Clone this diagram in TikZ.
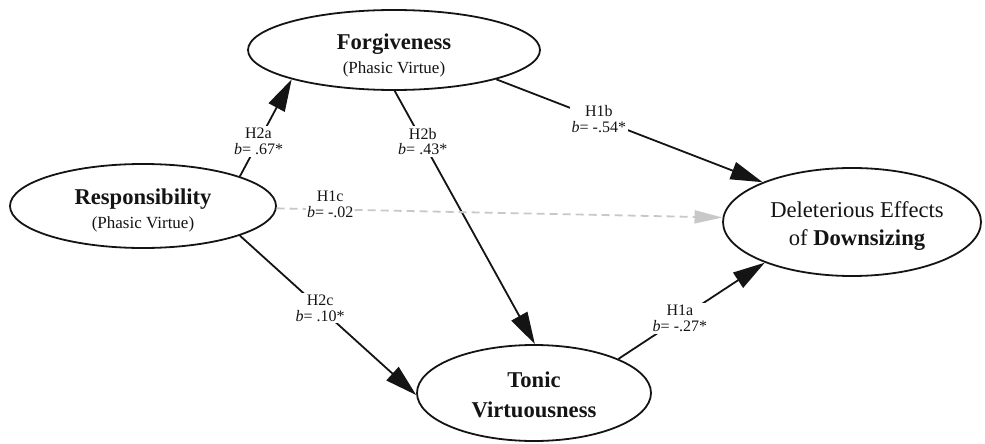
\documentclass[tikz,border=0pt]{standalone}
\usepackage{fontspec}
\setmainfont{Liberation Serif}
\usetikzlibrary{arrows.meta,shapes.geometric}
\definecolor{lgray}{RGB}{200,200,200}
\definecolor{ink}{RGB}{20,20,20}
\begin{document}
\begin{tikzpicture}[x=0.5pt,y=-0.5pt,
  latent/.style={draw=ink, ellipse, line width=0.9pt, inner sep=0pt},
  txt/.style={align=center, inner sep=0pt, text=ink},
  pathway/.style={draw=ink, line width=0.9pt, -{Triangle[length=16pt,width=9pt]}},
  weak/.style={draw=lgray, line width=0.9pt, dash pattern=on 4pt off 2.5pt, -{Triangle[length=14pt,width=6.5pt]}},
  lab/.style={fill=white, inner sep=1pt, align=center, text=ink, font=\fontsize{8}{7.8}\selectfont}
]
\useasboundingbox (0,0) rectangle (985,444);

% ellipses
\node[latent, minimum width=146pt, minimum height=40pt] (forg) at (394,50) {};
\node[latent, minimum width=133pt, minimum height=42pt] (resp) at (143,206) {};
\node[latent, minimum width=117pt, minimum height=48pt] (tonic) at (534,393) {};
\node[latent, minimum width=129pt, minimum height=54pt] (del) at (852,222) {};

% texts
\node[txt] (forgT) at (394,55) {{\fontsize{11.3}{13}\selectfont\bfseries Forgiveness}\\[0pt]{\fontsize{8.5}{13}\selectfont (Phasic Virtue)}};
\node[txt] (respT) at (143,210) {{\fontsize{11.3}{13}\selectfont\bfseries Responsibility}\\[0pt]{\fontsize{8.5}{13}\selectfont (Phasic Virtue)}};
\node[txt, font=\fontsize{11.3}{15}\selectfont\bfseries] (tonicT) at (534,395) {Tonic\\Virtuousness};
\node[txt, font=\fontsize{11.3}{14}\selectfont] (delT) at (857,226) {Deleterious Effects\\of \textbf{Downsizing}};

% connectors
\draw[pathway] (resp.17) -- node[lab, pos=0.36] {H2a\\\textit{b}= .67*} (forg.196.5);
\draw[pathway] (forg.271) -- node[lab, pos=0.2] {H2b\\\textit{b}= .43*} (tonic.89);
\draw[pathway] (forg.-16) -- node[lab, pos=0.385] {H1b\\\textit{b}= -.54*} (del.156);
\draw[weak] (resp.-1.3) -- node[lab, pos=0.12, yshift=2.5pt, inner sep=0.3pt] {H1c\\\textit{b}= -.02} (del.178);
\draw[pathway] (resp.-17.7) -- node[lab, pos=0.455] {H2c\\\textit{b}= .10*} (tonic.181);
\draw[pathway] (tonic.22.5) -- node[lab, pos=0.42] {H1a\\\textit{b}= -.27*} (del.205.2);
\end{tikzpicture}
\end{document}
